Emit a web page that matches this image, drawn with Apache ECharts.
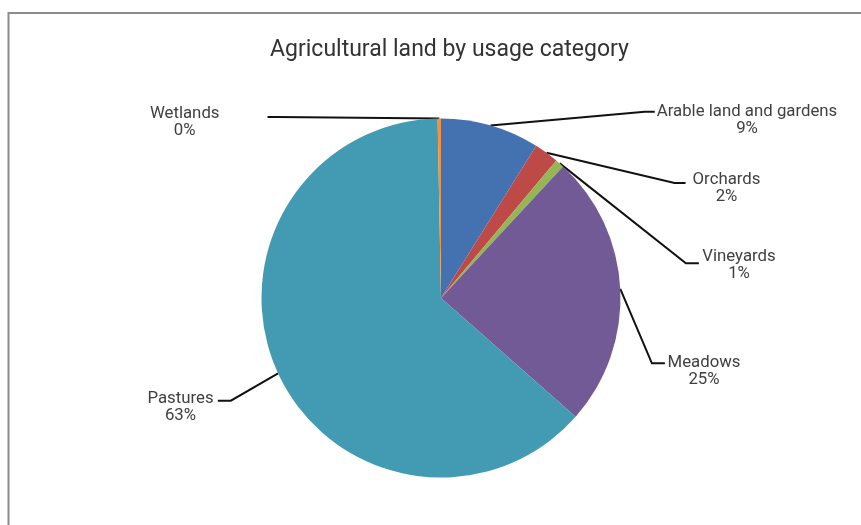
<!DOCTYPE html>
<html><head><meta charset="utf-8">
<script src="https://cdn.jsdelivr.net/npm/echarts@6/dist/echarts.min.js"></script>
<style>html,body{margin:0;padding:0;background:#fff}#c{width:861px;height:525px}</style>
</head><body><div id="c"></div>
<script>
// ---- data ----
const categories = ['Arable land and gardens', 'Orchards', 'Vineyards', 'Meadows', 'Pastures', 'Wetlands'];
const values = [8.9, 2.2, 0.8, 24.6, 63.2, 0.3];
const colors = ['#4472b0', '#bd4a47', '#95b655', '#725a96', '#439bb3', '#f4913c'];

// ---- label placement (layout, not data) ----
const labelX = [747, 726.5, 739, 704, 180.5, 184.7];      // label centre x
const labelY = [111.5, 179.5, 257, 362.5, 399, 114];     // first-line centre y
const lineY = [111.7, 183, 263.3, 363.3, 400.7, 117];    // guide line end y
const lineSide = ['left', 'left', 'left', 'left', 'right', 'right'];
const lineGap = [2, 7, 3.4, 2.6, 4.3, 48];
const elbow = [10, 11, 13, 13, 13, 10];

const FONT = 'Roboto';
const LH = 17;
const total = values.reduce((a, b) => a + b, 0);

const chart = echarts.init(document.getElementById('c'), null, {renderer: 'canvas'});
chart.setOption({
  backgroundColor: '#ffffff',
  animation: false,
  graphic: [{
    type: 'rect', silent: true,
    shape: {x: 8.5, y: 13, width: 900, height: 600},
    style: {fill: 'none', stroke: '#8c8c8c', lineWidth: 2}
  }],
  title: {
    text: 'Agricultural land by usage category',
    left: 444.5, top: 34, textAlign: 'center',
    textStyle: {fontFamily: FONT, fontSize: 23, fontWeight: 'normal', color: '#333333'}
  },
  series: [{
    type: 'pie',
    center: [441, 298],
    radius: 179.5,
    startAngle: 90,
    clockwise: true,
    avoidLabelOverlap: false,
    emphasis: {disabled: true},
    itemStyle: {borderWidth: 0},
    data: categories.map((c, i) => ({name: c, value: values[i], itemStyle: {color: colors[i]}})),
    label: {
      show: true,
      position: 'outside',
      fontFamily: FONT, fontSize: 16.8, lineHeight: LH, color: '#404040',
      align: 'center',
      formatter: p => p.name + '\n' + Math.round(p.value / total * 100) + '%'
    },
    labelLine: {show: true, length: 10, length2: 10, smooth: false,
      lineStyle: {color: '#111111', width: 2}},
    labelLayout: function (p) {
      const i = p.dataIndex;
      const w = p.labelRect.width;
      const left = lineSide[i] === 'left';
      const endX = left ? labelX[i] - w / 2 - lineGap[i] : labelX[i] + w / 2 + lineGap[i];
      const elbowX = left ? endX - elbow[i] : endX + elbow[i];
      const anchor = p.labelLinePoints[0];
      return {
        x: labelX[i], y: labelY[i] - LH / 2,
        align: 'center', verticalAlign: 'top',
        labelLinePoints: [[anchor[0], anchor[1]], [elbowX, lineY[i]], [endX, lineY[i]]]
      };
    }
  }]
});
</script></body></html>
